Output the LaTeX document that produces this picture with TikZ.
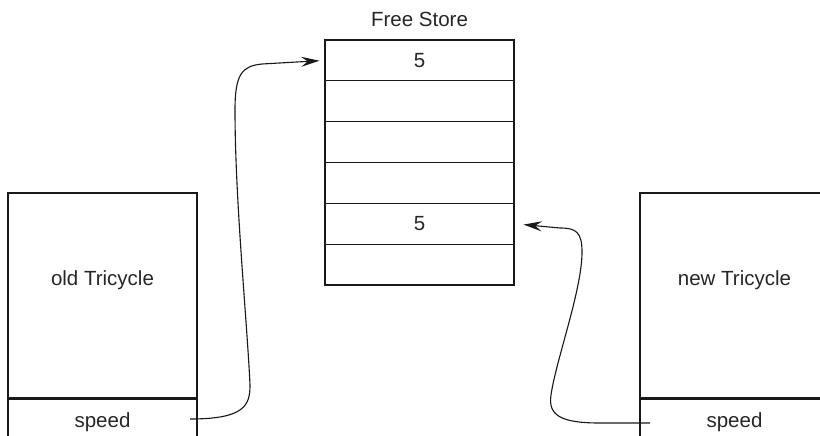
\documentclass[tikz,border=0pt]{standalone}
\usepackage{fontspec}
\setmainfont{Liberation Sans}
\usetikzlibrary{arrows.meta}

\begin{document}
\begin{tikzpicture}[x=0.03cm, y=-0.03cm,
		cell/.style={rectangle, draw=black!90, line width=1pt, minimum width=5.67cm, inner sep=0pt},
		slot/.style={cell, minimum height=1.225cm},
		txt/.style={text=black!85, font=\fontsize{17.5}{21}\selectfont},
		ptr/.style={draw=black!90, line width=0.95pt, -{Stealth[length=0.55cm, width=0.3cm, inset=0.2cm]}}]
		
		\useasboundingbox (0,0) rectangle (820,435);
		\clip (0,0) rectangle (820,435);
		
		% Free store
		\node[txt] (fs) at (419.5,19) {Free Store};
		\foreach \i/\v in {1/5,2/{},3/{},4/{},5/5,6/{}}
			\node[slot, txt] (r\i) at (419.5,{40+40.83*(\i-0.5)}) {\v};
		
		% Tricycles
		\node[cell, minimum height=6.15cm] (old) at (102.5,295.5) {};
		\node[txt] (oldname) at (102.5,280) {old Tricycle};
		\node[cell, txt, minimum height=1.38cm, anchor=north] (olds) at (old.south) {speed};
		
		\node[cell, minimum height=6.15cm] (new) at (734.5,295.5) {};
		\node[txt] (newname) at (734.5,280) {new Tricycle};
		\node[cell, txt, minimum height=1.38cm, anchor=north] (news) at (new.south) {speed};
		
		% Pointers
		\coordinate (oldp) at (190,419);
		\coordinate (newp) at (650,423);
		\draw[ptr, shorten >=0.15cm] (oldp) .. controls (245,419) and (250,405) .. (250,385)
			.. controls (247,320) and (235,200) .. (235,110)
			.. controls (235,74) and (242,66) .. (262,64) -- (r1.west);
		\draw[ptr, shorten >=0.27cm] (newp) -- (600,423) .. controls (560,423) and (548,415) .. (551,395)
			.. controls (556,360) and (582,290) .. (582,252)
			.. controls (582,232) and (576,228) .. (560,228) -- (r5.east);
		
	\end{tikzpicture}
\end{document}
